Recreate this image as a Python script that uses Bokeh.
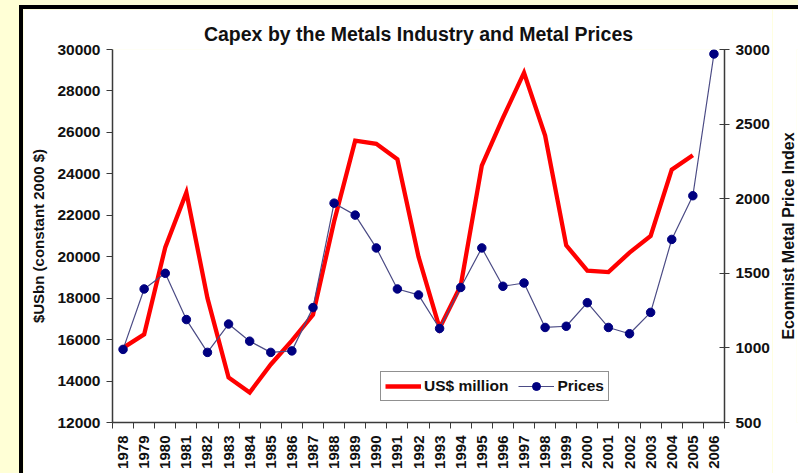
import math
from bokeh.plotting import figure
from bokeh.layouts import row
from bokeh.models import (Range1d, LinearAxis, FixedTicker, Legend, LegendItem,
                          GlobalInlineStyleSheet, Title)
from bokeh.embed import file_html
from bokeh.resources import INLINE

# ---- data ----
years = list(range(1978, 2007))
capex_years = list(range(1978, 2006))
capex = [15600, 16250, 20450, 23100, 18000, 14170, 13450, 14800, 15950, 17200,
         21700, 25600, 25450, 24700, 20000, 16550, 18600, 24400, 26700, 28880,
         25850, 20550, 19330, 19260, 20200, 21000, 24200, 24900]
prices = [990, 1395, 1500, 1190, 970, 1160, 1045, 970, 980, 1270,
          1970, 1890, 1670, 1395, 1355, 1130, 1405, 1670, 1413, 1435,
          1137, 1145, 1303, 1137, 1095, 1238, 1727, 2020, 2970]
left_ticks = list(range(12000, 30001, 2000))
right_ticks = list(range(500, 3001, 500))

title_text = "Capex by the Metals Industry and Metal Prices"
left_label = "$USbn (constant 2000 $)"
right_label = "Econmist Metal Price Index"
series_names = ["US$ million", "Prices"]

FONT = "Liberation Sans"
AXIS_COLOR = "#3a3a3a"
TEXT_COLOR = "#111111"

p = figure(width=749, height=464, output_backend="svg", toolbar_location=None,
           x_range=Range1d(1977.5, 2006.5), y_range=Range1d(12000, 30000),
           min_border_left=89, min_border_right=47, min_border_top=40,
           min_border_bottom=51, background_fill_color="white",
           border_fill_color="white")
p.outline_line_color = None
p.xgrid.visible = False
p.ygrid.visible = False

p.title.text = title_text
p.title.align = "center"
p.title.text_font = FONT
p.title.text_font_size = "19.5px"
p.title.text_font_style = "bold"
p.title.text_color = TEXT_COLOR
p.title.standoff = 9

p.extra_y_ranges = {"price": Range1d(500, 3000)}
rax = LinearAxis(y_range_name="price")
p.add_layout(rax, "right")

# x axis
xa = p.xaxis[0]
xa.ticker = FixedTicker(ticks=years, minor_ticks=[y - 0.5 for y in years] + [years[-1] + 0.5])
xa.minor_tick_line_color = AXIS_COLOR
xa.minor_tick_out = 6
xa.minor_tick_in = 0
xa.major_label_orientation = math.pi / 2
xa.major_label_standoff = 7

# left axis
ya = p.yaxis[0]
ya.ticker = FixedTicker(ticks=left_ticks)
ya.major_tick_out = 6
ya.major_tick_in = 0
ya.minor_tick_line_color = None
ya.axis_label = left_label
ya.major_label_standoff = 6
ya.axis_label_standoff = 7

# right axis
rax.ticker = FixedTicker(ticks=right_ticks)
rax.major_tick_out = 5
rax.major_tick_in = 5
rax.minor_tick_line_color = None
rax.major_label_standoff = 6

for ax in [xa, ya, rax]:
    ax.axis_line_color = AXIS_COLOR
    ax.axis_line_width = 1.5
    ax.major_tick_line_color = AXIS_COLOR if ax is not xa else None
    ax.major_label_text_font = FONT
    ax.major_label_text_font_size = "15.5px"
    ax.major_label_text_font_style = "bold"
    ax.major_label_text_color = TEXT_COLOR
    ax.axis_label_text_font = FONT
    ax.axis_label_text_font_size = "15px"
    ax.axis_label_text_font_style = "bold"
    ax.axis_label_text_color = TEXT_COLOR
xa.major_label_text_font_size = "15px"

# series
red = p.line(capex_years, capex, line_color="#ff0000", line_width=4.3,
             line_join="miter")
bl = p.line(years, prices, y_range_name="price", line_color="#4b4b85", line_width=1.2)
bs = p.scatter(years, prices, y_range_name="price", size=8.5,
               fill_color="#000080", line_color="#000080")

legend = Legend(items=[LegendItem(label=series_names[0], renderers=[red]),
                       LegendItem(label=series_names[1], renderers=[bl, bs])],
                orientation="horizontal", location=(268, 21),
                border_line_color="#222222", border_line_width=1.2,
                background_fill_color="white", background_fill_alpha=1,
                glyph_width=36, glyph_height=20, label_standoff=3, spacing=10,
                padding=4, margin=0,
                label_text_font=FONT, label_text_font_size="15.5px",
                label_text_font_style="bold", label_text_color=TEXT_COLOR)
p.add_layout(legend)

# narrow side panel carrying the right-hand axis title (reads bottom to top)
p2 = figure(width=26, height=464, output_backend="svg", toolbar_location=None,
            x_axis_type=None, y_axis_type=None,
            min_border_left=24, min_border_right=0, min_border_top=40,
            min_border_bottom=51, background_fill_color="white",
            border_fill_color="white")
p2.outline_line_color = None
p2.title.visible = False
p2.add_layout(Title(text=right_label, align="center", standoff=0, offset=0,
                    text_font=FONT, text_font_size="16px", text_font_style="bold",
                    text_color=TEXT_COLOR), "left")

root = row(p, p2, spacing=0)
root.stylesheets = [GlobalInlineStyleSheet(css="html, body { background: #FFFFD6; margin: 0; padding: 0; }")]
root.styles = {"margin-left": "23px", "margin-top": "9px",
               "box-shadow": "-2px -2px 0 2px black"}

open("out.html", "w").write(file_html(root, INLINE))
